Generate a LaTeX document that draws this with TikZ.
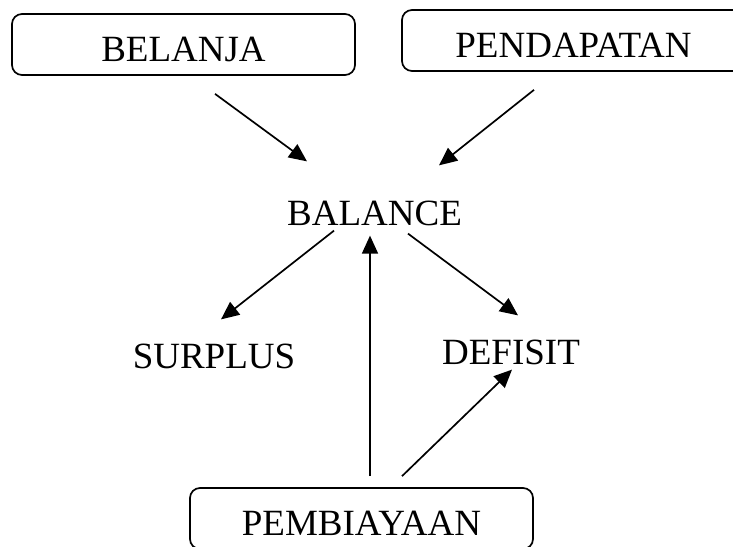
\documentclass[tikz,border=0pt]{standalone}
\usepackage{fontspec}
\setmainfont{Liberation Serif}
\usepackage{tikz}
\usetikzlibrary{positioning,arrows.meta,calc}
\definecolor{ink}{RGB}{0,0,0}
\tikzset{
  box/.style={draw=ink, rounded corners=10pt, align=center, inner sep=0pt,
    minimum width=343pt, minimum height=61pt, text height=34pt, text depth=0pt,
    font=\fontsize{37}{44}\selectfont, text=ink, line width=1.7pt},
  lbl/.style={inner sep=0pt, font=\fontsize{37}{44}\selectfont, text=ink},
  flow/.style={-{Triangle[length=18pt,width=16pt]}, line width=1.7pt, draw=ink},
}
\begin{document}
\begin{tikzpicture}[x=1pt, y=-1pt]
  \useasboundingbox (0,0) rectangle (733,546);
  \node[box] (belanja) at (183.5,44.5) {BELANJA};
  \node[box] (pendapatan) at (573.5,40.5) {PENDAPATAN};
  \node[box] (pembiayaan) at (361.5,518.5) {PEMBIAYAAN};
  \node[lbl] (balance) at (374.5,213) {BALANCE};
  \node[lbl] (surplus) at (214,356) {SURPLUS};
  \node[lbl] (defisit) at (511,352) {DEFISIT};
  \draw[flow] ([shift={(31.5,18)}]belanja.south) -- ([shift={(-67.5,-39)}]balance.north);
  \draw[flow] ([shift={(-39.5,18)}]pendapatan.south) -- ([shift={(64.5,-35)}]balance.north);
  \draw[flow] ([shift={(-40.5,5)}]balance.south) -- ([shift={(7,-24)}]surplus.north);
  \draw[flow] ([shift={(33.5,8)}]balance.south) -- ([shift={(7,-24)}]defisit.north);
  \draw[flow] ([shift={(8.5,-11)}]pembiayaan.north) -- ([shift={(-4.5,10)}]balance.south);
  \draw[flow] ([shift={(40.5,-11)}]pembiayaan.north) -- ([shift={(1,5)}]defisit.south);
\end{tikzpicture}
\end{document}
